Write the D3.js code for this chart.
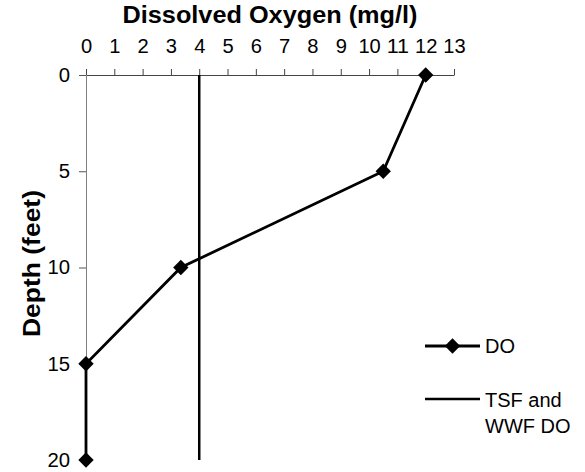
<!DOCTYPE html>
<html>
<head>
<meta charset="utf-8">
<script src="https://cdn.jsdelivr.net/npm/d3@7"></script>
<style>
  html, body { margin: 0; padding: 0; background: #fff; }
  svg { display: block; font-family: Arial, "Liberation Sans", sans-serif; }
</style>
</head>
<body>
<svg id="chart" width="585" height="472"></svg>
<script>
// Data
const depths = [0, 5, 10, 15, 20];
const doValues = [12, 10.5, 3.35, 0, 0];
const standardDO = 4;              // TSF and WWF DO criterion
const xTicks = [0,1,2,3,4,5,6,7,8,9,10,11,12,13];
const yTicks = [0, 5, 10, 15, 20];
const xTitle = "Dissolved Oxygen (mg/l)";
const yTitle = "Depth (feet)";
const legendLabels = ["DO", ["TSF and", "WWF DO"]];

const FONT = "Arial, 'Liberation Sans', sans-serif";
const svg = d3.select("#chart");
const x = d3.scaleLinear().domain([0, 13]).range([86, 454]);
const y = d3.scaleLinear().domain([0, 20]).range([75, 460]);

// X axis (top)
const xAxis = svg.append("g")
  .attr("transform", `translate(0,${y(0)})`)
  .call(d3.axisTop(x).tickValues(xTicks).tickSizeInner(6).tickSizeOuter(0).tickPadding(16));
xAxis.select(".domain").attr("stroke", "#444");
xAxis.selectAll(".tick line").attr("stroke", "#444");
xAxis.selectAll(".tick text").attr("font-size", 20).attr("fill", "#000")
  .attr("font-family", FONT)
  .attr("textLength", d => String(d).length * 11.2)
  .attr("lengthAdjust", "spacingAndGlyphs");

// Y axis (left)
const yAxis = svg.append("g")
  .attr("transform", `translate(${x(0)},0)`)
  .call(d3.axisLeft(y).tickValues(yTicks).tickSizeInner(7).tickSizeOuter(0).tickPadding(9));
yAxis.select(".domain").attr("stroke", "#808080");
yAxis.selectAll(".tick line").attr("stroke", "#555");
yAxis.selectAll(".tick text").attr("font-size", 20).attr("fill", "#000")
  .attr("font-family", FONT)
  .attr("textLength", d => String(d).length * 11.3)
  .attr("lengthAdjust", "spacingAndGlyphs");

// Titles
svg.append("text")
  .attr("x", 270)
  .attr("y", 23)
  .attr("text-anchor", "middle")
  .attr("font-weight", "bold")
  .attr("font-size", 23)
  .attr("textLength", 295)
  .attr("lengthAdjust", "spacingAndGlyphs")
  .text(xTitle);

svg.append("text")
  .attr("transform", `translate(40,263.5) rotate(-90)`)
  .attr("text-anchor", "middle")
  .attr("font-weight", "bold")
  .attr("font-size", 23)
  .attr("textLength", 147)
  .attr("lengthAdjust", "spacingAndGlyphs")
  .text(yTitle);

// Standard vertical line
svg.append("line")
  .attr("x1", x(standardDO)).attr("x2", x(standardDO))
  .attr("y1", y(0)).attr("y2", y(20))
  .attr("stroke", "#000").attr("stroke-width", 2.5);

// DO line
const pts = depths.map((d, i) => [doValues[i], d]);
svg.append("path")
  .datum(pts)
  .attr("fill", "none")
  .attr("stroke", "#000")
  .attr("stroke-width", 2.8)
  .attr("d", d3.line().x(d => x(d[0])).y(d => y(d[1])));

const marker = d3.symbol().type(d3.symbolSquare).size(118);
svg.selectAll(".marker")
  .data(pts)
  .enter().append("path")
  .attr("class", "marker")
  .attr("d", marker)
  .attr("transform", d => `translate(${x(d[0])},${y(d[1])}) rotate(45)`)
  .attr("fill", "#000");

// Legend
const lg = svg.append("g").attr("font-family", FONT);
lg.append("line").attr("x1", 425).attr("x2", 480).attr("y1", 346).attr("y2", 346)
  .attr("stroke", "#000").attr("stroke-width", 2.8);
lg.append("path").attr("d", marker)
  .attr("transform", "translate(452.5,346) rotate(45)").attr("fill", "#000");
lg.append("text").attr("x", 485).attr("y", 353).attr("font-size", 20).text(legendLabels[0]);

lg.append("line").attr("x1", 425).attr("x2", 480).attr("y1", 399).attr("y2", 399)
  .attr("stroke", "#000").attr("stroke-width", 2.5);
lg.append("text").attr("x", 485).attr("y", 407).attr("font-size", 20).text(legendLabels[1][0]);
lg.append("text").attr("x", 485).attr("y", 433).attr("font-size", 20).text(legendLabels[1][1]);
</script>
</body>
</html>
